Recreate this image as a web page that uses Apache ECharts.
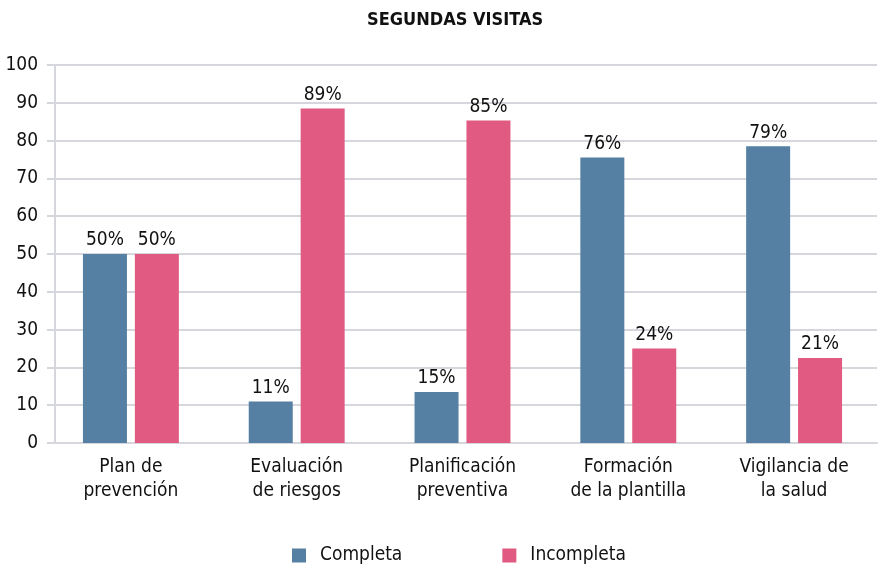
<!DOCTYPE html>
<html>
<head>
<meta charset="utf-8">
<script src="https://cdn.jsdelivr.net/npm/echarts@6/dist/echarts.min.js"></script>
<style>
	html, body { margin: 0; padding: 0; background: #fff; }
	#chart { width: 883px; height: 565px; }
</style>
</head>
<body>
<div id="chart"></div>
<script>
	// datos
	var categories = ['Plan de\nprevención', 'Evaluación\nde riesgos', 'Planificación\npreventiva', 'Formación\nde la plantilla', 'Vigilancia de\nla salud'];
	var completa = [50, 11, 13.5, 75.5, 78.5];
	var incompleta = [50, 88.5, 85.3, 25, 22.5];
	var completaLabels = ['50%', '11%', '15%', '76%', '79%'];
	var incompletaLabels = ['50%', '89%', '85%', '24%', '21%'];
	var yTicks = [0, 10, 20, 30, 40, 50, 60, 70, 80, 90, 100];

	var font = '"Liberation Sans Narrow", "DejaVu Sans Condensed", "Roboto", sans-serif';
	var chart = echarts.init(document.getElementById('chart'));

	function labelFrom(texts) {
		return {
			show: true,
			position: 'top',
			distance: 4,
			fontFamily: font,
			fontSize: 19,
			color: '#111',
			formatter: function(p) { return texts[p.dataIndex]; }
		};
	}

	var option = {
		animation: false,
		title: {
			text: 'SEGUNDAS VISITAS',
			left: 362,
			top: 6,
			textStyle: { fontFamily: font, fontSize: 18, fontWeight: 'bold', color: '#111' }
		},
		legend: {
			data: ['Completa', 'Incompleta'],
			left: 287,
			top: 541,
			itemWidth: 14,
			itemHeight: 14,
			itemGap: 100,
			icon: 'rect',
			textStyle: { fontFamily: font, fontSize: 19, color: '#111', padding: [0, 0, 0, 9] }
		},
		grid: { left: 48, right: 6, top: 65, bottom: 122 },
		xAxis: {
			type: 'category',
			data: categories,
			axisLine: { show: true, lineStyle: { color: '#d6d7dd', width: 2 } },
			axisTick: { show: false },
			axisLabel: { fontFamily: font, fontSize: 19, color: '#111', margin: 12, lineHeight: 24, interval: 0 }
		},
		yAxis: {
			type: 'value',
			min: yTicks[0],
			max: yTicks[yTicks.length - 1],
			interval: 10,
			offset: -7,
			axisLine: { show: true, lineStyle: { color: '#d6d7dd', width: 2 } },
			axisTick: { show: true, length: 8, lineStyle: { color: '#d6d7dd', width: 2 } },
			splitLine: { lineStyle: { color: '#d6d7dd', width: 2 } },
			axisLabel: { fontFamily: font, fontSize: 19, color: '#111', margin: 17 }
		},
		series: [
			{
				name: 'Completa',
				type: 'bar',
				data: completa,
				barWidth: 44,
				barGap: '18%',
				itemStyle: { color: '#5580a3' },
				label: labelFrom(completaLabels)
			},
			{
				name: 'Incompleta',
				type: 'bar',
				data: incompleta,
				barWidth: 44,
				itemStyle: { color: '#e05a81' },
				label: labelFrom(incompletaLabels)
			}
		]
	};
	chart.setOption(option);
</script>
</body>
</html>
